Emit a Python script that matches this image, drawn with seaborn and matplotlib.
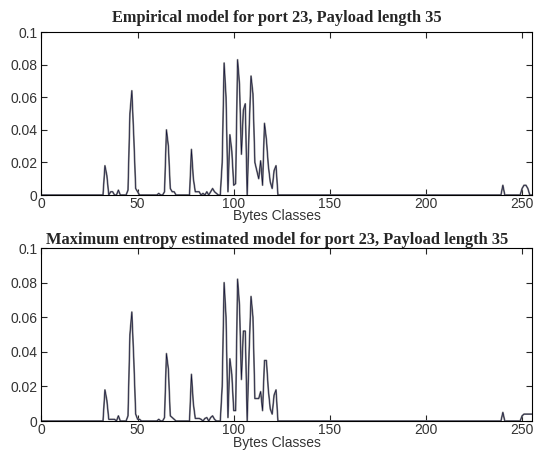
import numpy as np
import pandas as pd
import matplotlib
matplotlib.use("Agg")
import matplotlib.pyplot as plt
import seaborn as sns

# ---- data (byte class -> probability), all other classes are zero ----
n_classes = 256
emp_idx = [33, 34, 36, 37, 40,
           45, 46, 47, 48, 49, 50,
           61, 64, 65, 66, 67, 68, 69,
           78, 79, 80, 81, 82, 84, 86, 88, 89, 90, 91,
           94, 95, 96, 97, 98, 99, 100, 101, 102, 103, 104, 105, 106,
           108, 109, 110, 111, 112, 113, 114, 115, 116, 117, 118, 119, 120, 121, 122,
           240, 250, 251, 252, 253]
emp_val = [0.018, 0.012, 0.002, 0.002, 0.003,
           0.003, 0.050, 0.064, 0.036, 0.004, 0.002,
           0.001, 0.002, 0.040, 0.030, 0.004, 0.002, 0.002,
           0.028, 0.010, 0.002, 0.002, 0.002, 0.001, 0.002, 0.002, 0.004, 0.002, 0.001,
           0.020, 0.081, 0.060, 0.002, 0.037, 0.027, 0.006, 0.007, 0.083, 0.068, 0.025, 0.052, 0.056,
           0.040, 0.073, 0.062, 0.020, 0.015, 0.010, 0.021, 0.006, 0.044, 0.034, 0.018, 0.008, 0.004, 0.015, 0.018,
           0.006, 0.004, 0.006, 0.006, 0.004]

me_idx = [33, 34, 35, 36, 37, 38, 40,
          45, 46, 47, 48, 49, 50, 51,
          61, 64, 65, 66, 67, 68, 69,
          78, 79, 80, 81, 82, 83, 85, 86, 88, 89, 90,
          94, 95, 96, 97, 98, 99, 100, 101, 102, 103, 104, 105, 106,
          108, 109, 110, 111, 112, 113, 114, 115, 116, 117, 118, 119, 120, 121, 122,
          240, 250, 251, 252, 253, 254, 255]
me_val = [0.018, 0.012, 0.001, 0.001, 0.001, 0.001, 0.003,
          0.003, 0.050, 0.063, 0.036, 0.004, 0.001, 0.001,
          0.001, 0.002, 0.039, 0.030, 0.003, 0.002, 0.001,
          0.027, 0.010, 0.0015, 0.0015, 0.0015, 0.001, 0.0015, 0.002, 0.002, 0.003, 0.001,
          0.020, 0.080, 0.060, 0.002, 0.036, 0.027, 0.006, 0.006, 0.082, 0.067, 0.024, 0.052, 0.052,
          0.040, 0.072, 0.060, 0.013, 0.013, 0.013, 0.017, 0.006, 0.035, 0.035, 0.018, 0.007, 0.004, 0.015, 0.018,
          0.005, 0.003, 0.004, 0.004, 0.004, 0.004, 0.004]

titles = ["Empirical model for port 23, Payload length 35",
          "Maximum entropy estimated model for port 23, Payload length 35"]
x_label = "Bytes Classes"
x_ticks = [0, 50, 100, 150, 200, 250]
y_ticks = [0, 0.02, 0.04, 0.06, 0.08, 0.1]
y_tick_labels = ["0", "0.02", "0.04", "0.06", "0.08", "0.1"]


def dense(idx, val):
    arr = np.zeros(n_classes)
    arr[idx] = val
    return arr


byte_classes = np.arange(n_classes)
df_emp = pd.DataFrame({"byte": byte_classes, "p": dense(emp_idx, emp_val)})
df_me = pd.DataFrame({"byte": byte_classes, "p": dense(me_idx, me_val)})

sns.set_theme(style="ticks")
plt.rcParams.update({
    "font.family": ["Liberation Sans", "DejaVu Sans"],
    "xtick.direction": "in", "ytick.direction": "in",
    "xtick.top": True, "ytick.right": True,
    "xtick.major.size": 4, "ytick.major.size": 4,
    "xtick.major.width": 0.8, "ytick.major.width": 0.8,
    "axes.linewidth": 0.8, "axes.edgecolor": "black",
})

fig = plt.figure(figsize=(5.34, 4.53), dpi=100, facecolor="white")
ax1 = fig.add_axes([0.0777, 0.5695, 0.918, 0.3598])
ax2 = fig.add_axes([0.0777, 0.0706, 0.918, 0.3819])

settings = [(ax1, df_emp, titles[0], 7, -1.3), (ax2, df_me, titles[1], 2, -0.8)]
for ax, df, title, pad, lpad in settings:
    sns.lineplot(data=df, x="byte", y="p", ax=ax, color="#858585", linewidth=1.3)
    sns.lineplot(data=df, x="byte", y="p", ax=ax, color="#101038", linewidth=0.45)
    ax.set_xlim(0, 255)
    ax.set_ylim(0, 0.1)
    ax.set_xticks(x_ticks)
    ax.set_xticklabels([str(t) for t in x_ticks])
    ax.set_yticks(y_ticks)
    ax.set_yticklabels(y_tick_labels)
    ax.tick_params(labelsize=10, labelcolor="#333333", pad=1.5)
    ax.tick_params(axis="y", pad=3)
    ax.set_xlabel(x_label, fontsize=10, color="#333333", labelpad=lpad, x=0.48)
    ax.set_ylabel("")
    ax.set_title(title, fontsize=11.8, fontweight="bold",
                 family=["Liberation Serif", "DejaVu Serif"], pad=pad, x=0.48)
    for s in ax.spines.values():
        s.set_visible(True)

fig.savefig("out.png", dpi=100, facecolor="white")
